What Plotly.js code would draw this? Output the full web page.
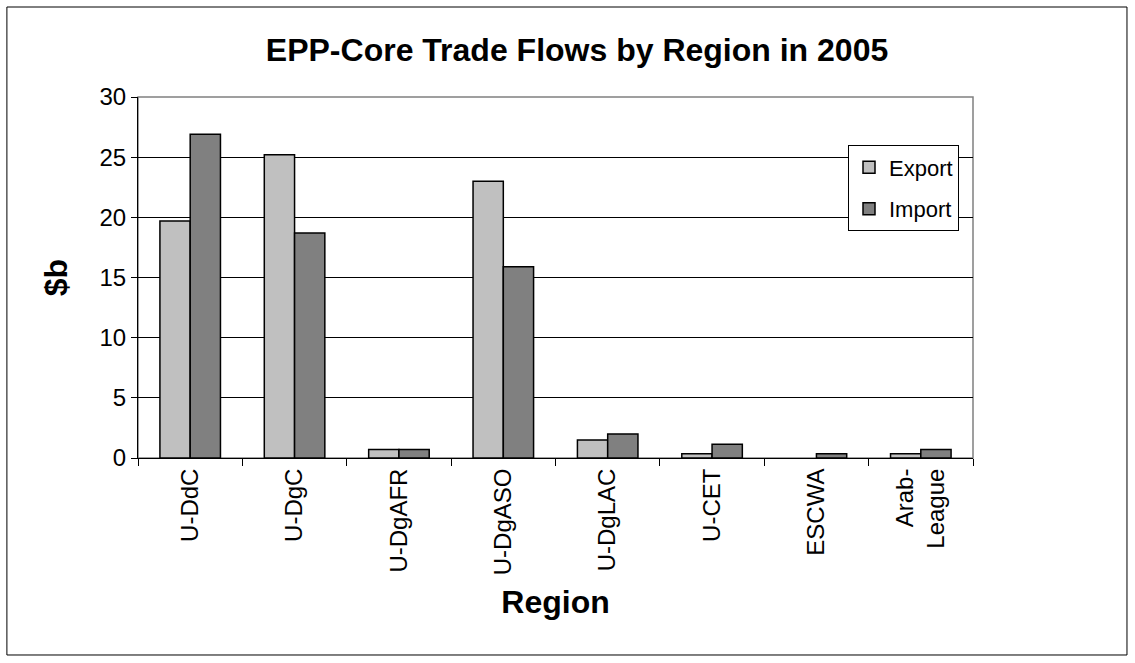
<!DOCTYPE html>
<html>
<head>
<meta charset="utf-8">
<script src="https://cdn.plot.ly/plotly-3.0.1.min.js"></script>
<style>html,body{margin:0;padding:0;background:#fff;}#chart{width:1135px;height:663px;}</style>
</head>
<body>
<div id="chart"></div>
<script>
const categories = ["U-DdC", "U-DgC", "U-DgAFR", "U-DgASO", "U-DgLAC", "U-CET", "ESCWA", "Arab-<br>League"];
const exportValues = [19.7, 25.2, 0.7, 23.0, 1.5, 0.35, 0, 0.35];
const importValues = [26.9, 18.7, 0.7, 15.9, 2.0, 1.15, 0.35, 0.7];
const yTicks = [0, 5, 10, 15, 20, 25, 30];

const font = "Liberation Sans, Arial, sans-serif";
const traces = [
  {type: "bar", name: "Export", x: categories, y: exportValues, legendgroup: "e",
   marker: {color: "#C0C0C0", line: {color: "#000", width: exportValues.map(v => v === 0 ? 0 : 1.5)}}},
  {type: "bar", name: "Import", x: categories, y: importValues, legendgroup: "i",
   marker: {color: "#808080", line: {color: "#000", width: 1.5}}}
];
const layout = {
  width: 1135, height: 663,
  margin: {l: 138, r: 162, t: 97, b: 205},
  paper_bgcolor: "#fff", plot_bgcolor: "#fff",
  font: {family: font, color: "#000", size: 24},
  barmode: "group", bargap: 0.42, bargroupgap: 0,
  title: {text: "<b>EPP-Core Trade Flows by Region in 2005</b>", font: {size: 32, family: font},
          x: 0.5084, xref: "container", xanchor: "center", y: 0.925, yref: "container", yanchor: "middle"},
  xaxis: {
    type: "category", tickangle: -90, tickson: "boundaries", ticks: "outside", ticklen: 7,
    tickcolor: "#000", showline: true, linecolor: "#000", linewidth: 1, mirror: false,
    showgrid: false, tickfont: {size: 24},
    title: {text: "<b>Region</b>", font: {size: 32}, standoff: 16}
  },
  yaxis: {
    range: [0, 30], tickvals: yTicks, ticks: "outside", ticklen: 6, tickcolor: "#000",
    showline: true, linecolor: "#000", linewidth: 1, showgrid: true, gridcolor: "#000", gridwidth: 1,
    zeroline: false, tickfont: {size: 24},
    title: {text: "<b>$b</b>", font: {size: 32}, standoff: 22}
  },
  legend: {x: 0.8503, y: 0.866, xanchor: "left", yanchor: "top", bgcolor: "#fff",
           bordercolor: "#000", borderwidth: 1, font: {size: 22}, tracegroupgap: 10,
           itemwidth: 30},
  showlegend: true,
  shapes: [
    {type: "rect", xref: "paper", yref: "paper", x0: 0, x1: 1, y0: 0, y1: 1,
     line: {color: "#808080", width: 1.5}, layer: "below"},
    {type: "rect", xref: "paper", yref: "paper", x0: -0.157, x1: 1.1844, y0: -0.5457, y1: 1.2493,
     line: {color: "#000", width: 1}}
  ]
};
Plotly.newPlot("chart", traces, layout, {displayModeBar: false, staticPlot: true});
</script>
</body>
</html>
